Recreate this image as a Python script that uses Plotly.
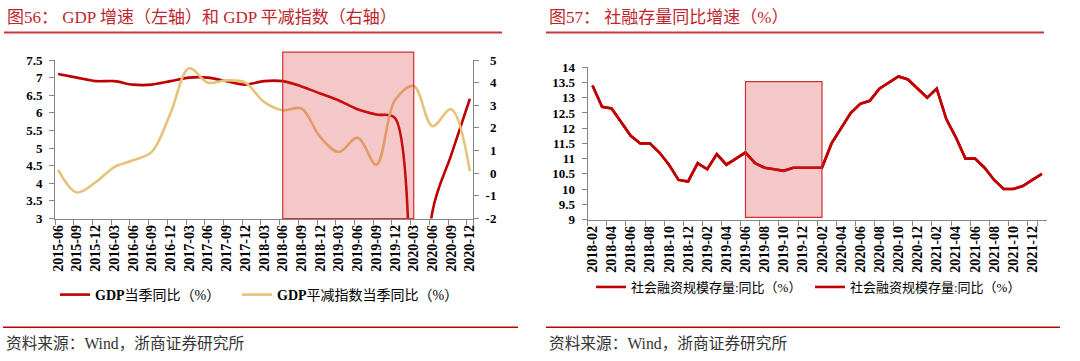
import plotly.graph_objects as go
import pandas as pd

# ---------------- Left chart data (quarterly) ----------------
gdp_quarters = ["2015-06", "2015-09", "2015-12", "2016-03", "2016-06", "2016-09", "2016-12",
                "2017-03", "2017-06", "2017-09", "2017-12", "2018-03", "2018-06", "2018-09",
                "2018-12", "2019-03", "2019-06", "2019-09", "2019-12", "2020-03", "2020-06",
                "2020-09", "2020-12"]
gdp_yoy = [7.1, 7.0, 6.9, 6.9, 6.8, 6.8, 6.9, 7.0, 7.0, 6.9, 6.8, 6.9, 6.9, 6.75, 6.55,
           6.35, 6.1, 5.95, 5.85, -6.8, 3.2, 4.8, 6.4]
deflator_yoy = [0.15, -0.85, -0.4, 0.27, 0.57, 0.94, 2.64, 4.63, 4.0, 4.1, 4.0, 3.15, 2.78,
                2.86, 1.6, 0.94, 1.57, 0.38, 3.23, 3.85, 2.08, 2.83, 0.08]
left_months = list(pd.period_range("2015-06", "2020-12", freq="M").strftime("%Y-%m"))
left_band = ("2018-06", "2020-03")
left_band_top = 1.05  # fraction of plot height
left_y_ticks = [3, 3.5, 4, 4.5, 5, 5.5, 6, 6.5, 7, 7.5]
right_y_ticks = [-2, -1, 0, 1, 2, 3, 4, 5]

# ---------------- Right chart data (monthly) ----------------
tsf_months = list(pd.period_range("2018-02", "2022-01", freq="M").strftime("%Y-%m"))
tsf_yoy = [13.4, 12.7, 12.65, 12.2, 11.75, 11.5, 11.5, 11.2, 10.8, 10.3, 10.25, 10.85,
           10.65, 11.15, 10.8, 11.0, 11.2, 10.85, 10.7, 10.65, 10.6, 10.7, 10.7, 10.7,
           10.7, 11.5, 12.0, 12.5, 12.8, 12.9, 13.3, 13.5, 13.7, 13.6, 13.3, 13.0,
           13.3, 12.3, 11.7, 11.0, 11.0, 10.7, 10.3, 10.0, 10.0, 10.1, 10.3, 10.5]
tsf_ticks = tsf_months[:-1:2]
tsf_band = ("2019-06", "2020-02")
tsf_band_y = (9.07, 13.53)
tsf_y_ticks = [9, 9.5, 10, 10.5, 11, 11.5, 12, 12.5, 13, 13.5, 14]

W, H = 1080, 361
def px(x):
    return x / W
def py(y):
    return 1 - y / H

SERIF = "Liberation Serif, Noto Sans CJK SC, serif"
RED = "#C00000"
GOLD = "#E6C27A"
AXIS = "#868686"
TITLE_RED = "#C0262D"

fig = go.Figure()

fig.add_trace(go.Scatter(x=gdp_quarters, y=gdp_yoy, name="<b>GDP</b>当季同比（%）",
                         mode="lines", line=dict(color=RED, width=2.6, shape="spline", smoothing=0.9),
                         xaxis="x", yaxis="y", legend="legend"))
fig.add_trace(go.Scatter(x=gdp_quarters, y=deflator_yoy, name="<b>GDP</b>平减指数当季同比（%）",
                         mode="lines", line=dict(color=GOLD, width=2.6, shape="spline", smoothing=1),
                         xaxis="x", yaxis="y2", legend="legend2"))
fig.add_trace(go.Scatter(x=tsf_months, y=tsf_yoy, name="社会融资规模存量:同比（%）",
                         mode="lines", line=dict(color=RED, width=2.6),
                         xaxis="x2", yaxis="y3", legend="legend3"))
fig.add_trace(go.Scatter(x=tsf_months, y=tsf_yoy, name="社会融资规模存量:同比（%）",
                         mode="lines", line=dict(color=RED, width=2.6),
                         xaxis="x2", yaxis="y3", legend="legend4"))

tickfont_x = dict(family=SERIF, size=14, color="black", weight="bold")
tickfont_y = dict(family=SERIF, size=13, color="black", weight="bold")

hide = '<span style="color:rgba(0,0,0,0)">-</span>'
right_y_text = [(str(v) if v < 0 else hide + str(v)) for v in right_y_ticks]

common_ax = dict(showline=True, linecolor=AXIS, linewidth=1, ticks="outside", ticklen=5,
                 tickcolor=AXIS, showgrid=False, zeroline=False, automargin=False)

fig.update_layout(
    width=W, height=H,
    margin=dict(l=0, r=0, t=0, b=0, autoexpand=False),
    paper_bgcolor="white", plot_bgcolor="rgba(0,0,0,0)",
    xaxis=dict(domain=[px(55), px(473)], type="category", categoryorder="array",
               categoryarray=left_months, range=[-0.5, len(left_months) - 0.5],
               tickmode="array", tickvals=gdp_quarters, ticktext=gdp_quarters,
               tickson="boundaries", tickangle=-90, tickfont=tickfont_x,
               anchor="y", **common_ax),
    yaxis=dict(domain=[py(218.5), py(60)], range=[3, 7.5], tickmode="array",
               tickvals=left_y_ticks, ticktext=[str(v) for v in left_y_ticks],
               tickfont=tickfont_y, anchor="x", ticklabelstandoff=4, **common_ax),
    yaxis2=dict(overlaying="y", side="right", range=[-2, 5], tickmode="array",
                tickvals=right_y_ticks, ticktext=right_y_text, tickfont=tickfont_y,
                anchor="x", ticklabelstandoff=4, **common_ax),
    xaxis2=dict(domain=[px(587.7), px(1046.7)], type="category", categoryorder="array",
                categoryarray=tsf_months, range=[-0.5, len(tsf_months) - 0.5],
                tickmode="array", tickvals=tsf_ticks, ticktext=tsf_ticks,
                tickson="boundaries", tickangle=-90, tickfont=tickfont_x,
                anchor="y3", **common_ax),
    yaxis3=dict(domain=[py(219.5), py(67.3)], range=[9, 14], tickmode="array",
                tickvals=tsf_y_ticks, ticktext=[str(v) for v in tsf_y_ticks],
                tickfont=tickfont_y, anchor="x2", ticklabelstandoff=4, **common_ax),
    showlegend=True,
)

legend_common = dict(orientation="h", bgcolor="rgba(0,0,0,0)", borderwidth=0,
                     xanchor="left", yanchor="middle")
legfont_l = dict(family=SERIF, size=14, color="black")
legfont_r = dict(family=SERIF, size=13, color="black")
fig.update_layout(
    legend=dict(x=px(55), y=py(295), font=legfont_l, **legend_common),
    legend2=dict(x=px(237), y=py(295), font=legfont_l, **legend_common),
    legend3=dict(x=px(591), y=py(287), font=legfont_r, **legend_common),
    legend4=dict(x=px(810), y=py(287), font=legfont_r, **legend_common),
)

band_fill = "rgba(215,50,50,0.27)"
band_line = dict(color="#D03030", width=1.2)
fig.add_shape(type="rect", xref="x", yref="y domain", x0=left_band[0], x1=left_band[1],
              y0=0, y1=left_band_top, fillcolor=band_fill, line=band_line, layer="above")
fig.add_shape(type="rect", xref="x2", yref="y3", x0=tsf_band[0], x1=tsf_band[1],
              y0=tsf_band_y[0], y1=tsf_band_y[1], fillcolor=band_fill, line=band_line,
              layer="above")

# Title rules and source rules
fig.add_shape(type="line", xref="paper", yref="paper", x0=px(4), x1=px(502),
              y0=py(32.5), y1=py(32.5), line=dict(color="#C8383B", width=2))
fig.add_shape(type="line", xref="paper", yref="paper", x0=px(546), x1=px(1044),
              y0=py(32.5), y1=py(32.5), line=dict(color="#C8383B", width=2))
fig.add_shape(type="line", xref="paper", yref="paper", x0=px(3), x1=px(518),
              y0=py(327.3), y1=py(327.3), line=dict(color="#C00000", width=1.5))
fig.add_shape(type="line", xref="paper", yref="paper", x0=px(546), x1=px(1060),
              y0=py(327.3), y1=py(327.3), line=dict(color="#C00000", width=1.5))

titlefont = dict(family=SERIF, size=17, color=TITLE_RED)
srcfont = dict(family=SERIF, size=15.7, color="#333333")
fig.add_annotation(xref="paper", yref="paper", x=px(5), y=py(18), xanchor="left",
                   yanchor="middle", showarrow=False, font=titlefont,
                   text="图56： GDP 增速（左轴）和 GDP 平减指数（右轴）")
fig.add_annotation(xref="paper", yref="paper", x=px(547), y=py(18), xanchor="left",
                   yanchor="middle", showarrow=False, font=titlefont,
                   text="图57： 社融存量同比增速（%）")
fig.add_annotation(xref="paper", yref="paper", x=px(4), y=py(343), xanchor="left",
                   yanchor="middle", showarrow=False, font=srcfont,
                   text="资料来源：Wind，浙商证券研究所")
fig.add_annotation(xref="paper", yref="paper", x=px(547), y=py(343), xanchor="left",
                   yanchor="middle", showarrow=False, font=srcfont,
                   text="资料来源：Wind，浙商证券研究所")

fig.write_html("out.html", config={"displayModeBar": False},
               post_script="document.body.style.margin='0px';")
